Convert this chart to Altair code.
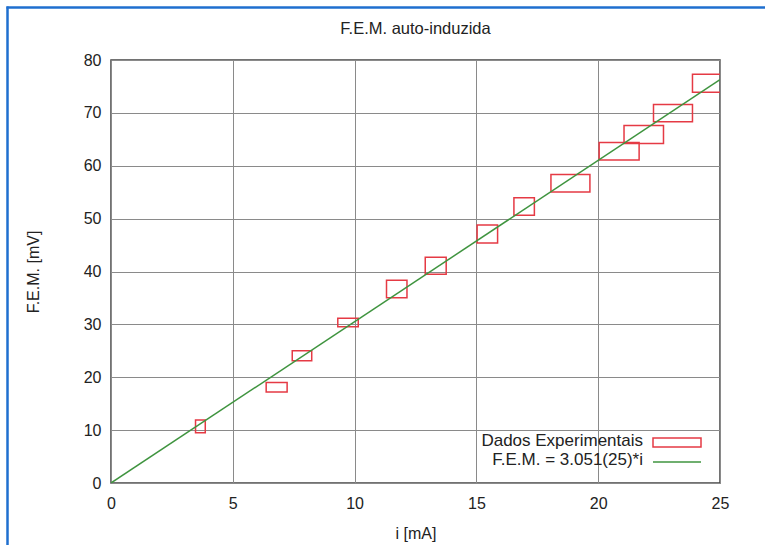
import altair as alt
import pandas as pd

# Experimental data: current i [mA], EMF [mV] and their uncertainties
corrente = [3.67, 6.80, 7.84, 9.73, 11.73, 13.33, 15.45, 16.96, 18.86, 20.86, 21.87, 23.07, 24.67]
fem = [10.7, 18.1, 24.05, 30.36, 36.7, 41.1, 47.1, 52.3, 56.7, 62.75, 65.9, 69.95, 75.6]
erro_i = [0.2, 0.43, 0.4, 0.42, 0.42, 0.43, 0.42, 0.42, 0.8, 0.82, 0.81, 0.8, 0.8]
erro_fem = [1.2, 0.9, 0.95, 0.8, 1.65, 1.6, 1.7, 1.65, 1.65, 1.65, 1.7, 1.65, 1.7]

# Fitted line F.E.M. = 3.051 * i, endpoints
ajuste_i = [0, 25]
ajuste_fem = [0, 76.275]

x_ticks = [0, 5, 10, 15, 20, 25]
y_ticks = [0, 10, 20, 30, 40, 50, 60, 70, 80]

titulo = ["F.E.M. auto-induzida"]
legenda = ["Dados Experimentais", "F.E.M. = 3.051(25)*i"]

RED = "#e53a44"
GREEN = "#3f943f"
FONT = "Liberation Sans"

df = pd.DataFrame({"i": corrente, "v": fem, "di": erro_i, "dv": erro_fem})
df["x1"] = df["i"] - df["di"]
df["x2"] = df["i"] + df["di"]
df["y1"] = df["v"] - df["dv"]
df["y2"] = df["v"] + df["dv"]

fit = pd.DataFrame({"i": ajuste_i, "v": ajuste_fem})

xscale = alt.Scale(domain=[0, 25], nice=False)
yscale = alt.Scale(domain=[0, 80], nice=False)

xaxis = alt.Axis(values=x_ticks, title="i [mA]", grid=True, tickSize=0, labelFlush=False,
                 labelPadding=12, titlePadding=14, domain=False)
yaxis = alt.Axis(values=y_ticks, title="F.E.M. [mV]", grid=True, tickSize=0, labelFlush=False,
                 labelPadding=10, titlePadding=42, domain=False)

boxes = alt.Chart(df).mark_rect(fill=None, stroke=RED, strokeWidth=1.5, clip=True).encode(
    x=alt.X("x1:Q", scale=xscale, axis=xaxis),
    x2="x2:Q",
    y=alt.Y("y1:Q", scale=yscale, axis=yaxis),
    y2="y2:Q",
)

line = alt.Chart(fit).mark_line(color=GREEN, strokeWidth=1.5, clip=True).encode(
    x=alt.X("i:Q", scale=xscale),
    y=alt.Y("v:Q", scale=yscale),
)

title_df = pd.DataFrame({"t": titulo})
title_mark = alt.Chart(title_df).mark_text(
    align="center", baseline="middle", font=FONT, fontSize=16.5, color="#222"
).encode(x=alt.value(304.5), y=alt.value(-31), text="t:N")

leg_text = pd.DataFrame({"label": legenda, "row": [0, 1]})
legend_text1 = alt.Chart(leg_text[leg_text.row == 0]).mark_text(
    align="right", baseline="middle", font=FONT, fontSize=17, color="#222"
).encode(x=alt.value(532), y=alt.value(381), text="label:N")
legend_text2 = alt.Chart(leg_text[leg_text.row == 1]).mark_text(
    align="right", baseline="middle", font=FONT, fontSize=17, color="#222"
).encode(x=alt.value(532), y=alt.value(400), text="label:N")
legend_box = alt.Chart(leg_text[leg_text.row == 0]).mark_rect(
    fill=None, stroke=RED, strokeWidth=1.5
).encode(x=alt.value(542), x2=alt.value(590), y=alt.value(378), y2=alt.value(387))
legend_line = alt.Chart(leg_text[leg_text.row == 1]).mark_rule(
    color=GREEN, strokeWidth=1.5
).encode(x=alt.value(542), x2=alt.value(590), y=alt.value(402))

# Decorative blue page frame
frame_v = alt.Chart(leg_text[leg_text.row == 0]).mark_rule(color="#1f6fcf", strokeWidth=2.5).encode(
    x=alt.value(-103.5), y=alt.value(-53.5), y2=alt.value(500))
frame_h = alt.Chart(leg_text[leg_text.row == 0]).mark_rule(color="#1f6fcf", strokeWidth=2.5).encode(
    x=alt.value(-104.5), x2=alt.value(660), y=alt.value(-52.5))

chart = alt.layer(
    boxes, line, title_mark, legend_text1, legend_text2, legend_box, legend_line, frame_v, frame_h
).properties(
    width=609,
    height=423,
    autosize=alt.AutoSizeParams(type="none"),
    padding={"left": 111, "top": 60, "right": 45, "bottom": 62},
    background="white",
).configure_axis(
    labelFont=FONT, labelFontSize=16, labelColor="#222",
    titleFont=FONT, titleFontSize=16, titleFontWeight="normal", titleColor="#222",
    gridColor="#8a8a8a", gridWidth=1, gridOpacity=1,
).configure_view(
    stroke="#444", strokeWidth=1.5,
)

chart.save("out.html", embed_options={"renderer": "svg", "actions": False})
